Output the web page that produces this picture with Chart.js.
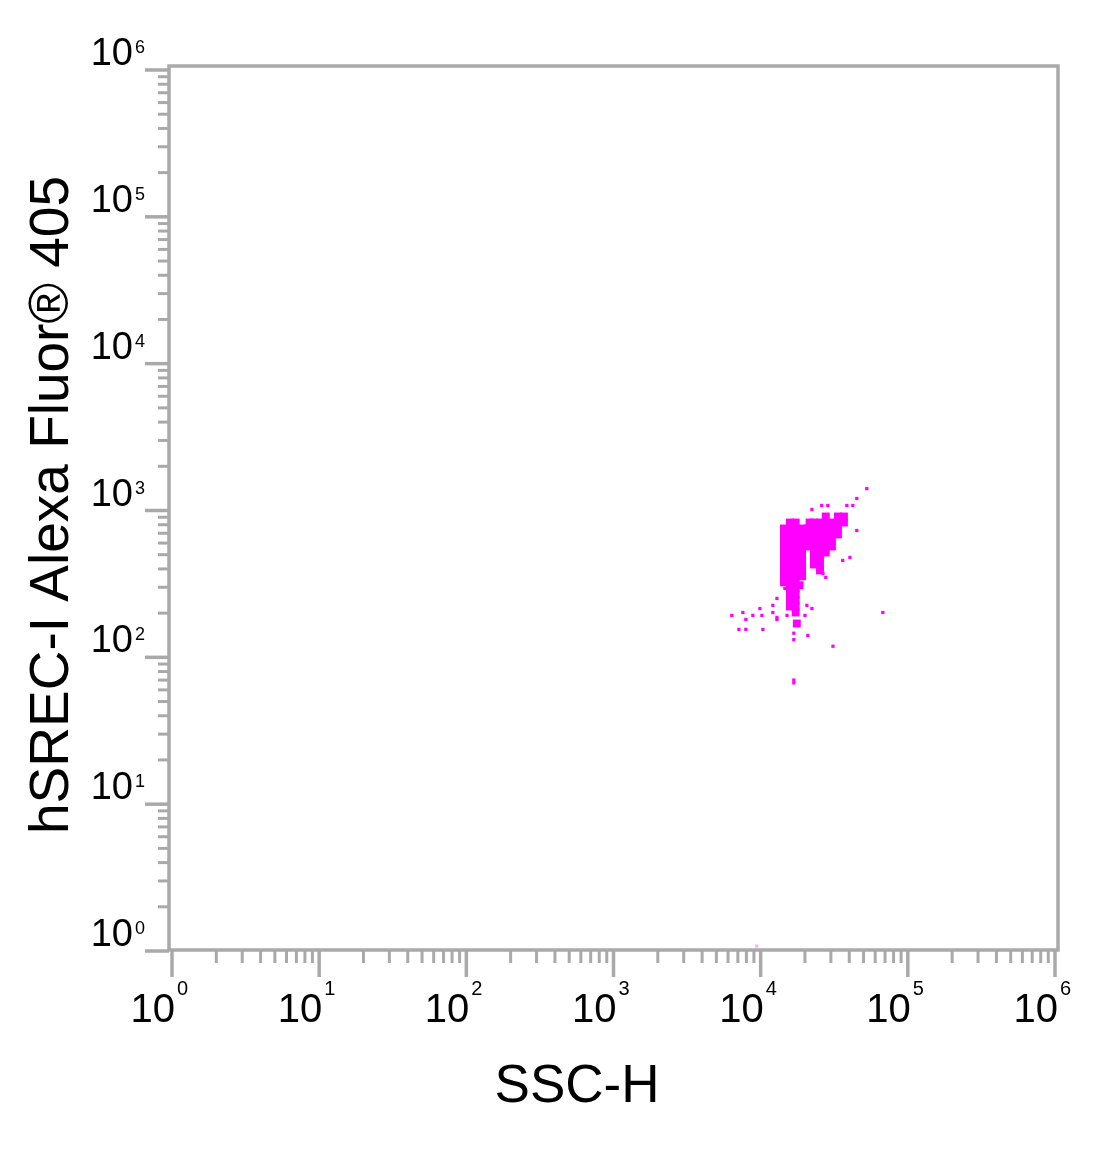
<!DOCTYPE html>
<html>
<head>
<meta charset="utf-8">
<title>hSREC-I Alexa Fluor 405 vs SSC-H</title>
<script src="https://cdn.jsdelivr.net/npm/chart.js@4.4.1/dist/chart.umd.min.js"></script>
<style>
  html, body { margin: 0; padding: 0; background: #fff; }
  #wrap { width: 1100px; height: 1166px; }
</style>
</head>
<body>
<div id="wrap"><canvas id="dotPlot" width="1100" height="1166"></canvas></div>
<script>
// Axis decades and minor multipliers
const decades = [1, 10, 100, 1000, 10000, 100000, 1000000];
const decadeExponents = ['0', '1', '2', '3', '4', '5', '6'];
const minorSteps = [2, 3, 4, 5, 6, 7, 8, 9];

const xAxisTitle = 'SSC-H';
const yAxisTitle = 'hSREC-I Alexa Fluor\u00AE 405';

// Dense part of the population [SSC-H, Alexa Fluor 405]
const denseEvents = [
    [27700, 910], [33500, 910], [36800, 910],
    [15800, 828], [17300, 828], [21500, 828], [23000, 828], [25300, 828], [27700, 828], [30500, 828], [33500, 828], [36800, 828],
    [14400, 754], [15800, 754], [17300, 754], [19100, 754], [20900, 754], [23000, 754], [25300, 754], [27700, 754], [30500, 754], [33500, 754],
    [14400, 687], [15800, 687], [17300, 687], [19100, 687], [20900, 687], [23000, 687], [25300, 687], [27700, 687], [30500, 687], [33500, 687],
    [14400, 625], [15800, 625], [17300, 625], [19100, 625], [20900, 625], [23000, 625], [25300, 625], [27700, 625], [30500, 625],
    [14400, 569], [15800, 569], [17300, 569], [19100, 569], [20900, 569], [23000, 569], [25300, 569], [27700, 569], [30500, 569],
    [14400, 518], [15800, 518], [17300, 518], [19100, 518], [23000, 518], [25300, 518], [27700, 518],
    [14400, 472], [15800, 472], [17300, 472], [19100, 472], [23000, 472], [25300, 472],
    [14400, 429], [15800, 429], [17300, 429], [19100, 429], [23000, 429], [25300, 429],
    [14400, 391], [15800, 391], [17300, 391], [19100, 391], [25300, 391],
    [14400, 356], [15800, 356], [17300, 356], [19100, 356],
    [14400, 324], [15800, 324], [17300, 324], [18400, 310],
    [15800, 295], [17300, 295],
    [15800, 268], [17300, 268],
    [15800, 244], [17300, 244],
    [15800, 222], [17300, 222],
    [17300, 202],
    [17600, 170]
];

// Scattered single events
const sparseEvents = [
    [52600, 1410], [45000, 1208], [42300, 1082], [38500, 1082], [26000, 1082], [28600, 1082],
    [22300, 1016], [45000, 731], [40400, 479], [36100, 457], [27700, 350], [26500, 373],
    [14600, 295], [12900, 252], [12100, 226], [12100, 202], [9880, 215], [10200, 193],
    [7570, 202], [6370, 193], [7930, 181], [8850, 193], [12900, 187], [12900, 181],
    [15100, 193], [20000, 193], [20600, 226], [22300, 215],
    [7110, 155], [7930, 155], [10350, 155],
    [16800, 146], [16800, 132], [20900, 141], [31000, 119], [67600, 202],
    [16800, 70], [16800, 67]
];

// Faint event sitting on the lower axis
const faintEvents = [[9400, 1.08]];

const toPoints = list => list.map(p => ({ x: p[0], y: p[1] }));

const axisFont = '"Liberation Sans", Arial, sans-serif';

const logAxesPlugin = {
    id: 'logAxes',
    afterDraw(chart) {
        const ctx = chart.ctx;
        const xs = chart.scales.x;
        const ys = chart.scales.y;
        const area = chart.chartArea;
        const grey = '#a9a9a9';

        const left = area.left - 3;
        const right = area.right + 3;
        const top = area.top - 4;
        const bottom = area.bottom - 1;

        ctx.save();
        ctx.strokeStyle = grey;
        ctx.lineCap = 'butt';

        // frame
        ctx.lineWidth = 3.5;
        ctx.strokeRect(left, top, right - left, bottom - top);

        // y ticks
        decades.forEach((d, i) => {
            const y = ys.getPixelForValue(d);
            ctx.lineWidth = 3.5;
            ctx.beginPath();
            ctx.moveTo(left - 24, y);
            ctx.lineTo(left, y);
            ctx.stroke();
            if (i < decades.length - 1) {
                minorSteps.forEach(m => {
                    const ym = ys.getPixelForValue(d * m);
                    ctx.lineWidth = 3;
                    ctx.beginPath();
                    ctx.moveTo(left - 11, ym);
                    ctx.lineTo(left, ym);
                    ctx.stroke();
                });
            }
        });

        // x ticks
        decades.forEach((d, i) => {
            const x = xs.getPixelForValue(d);
            ctx.lineWidth = 3.5;
            ctx.beginPath();
            ctx.moveTo(x, bottom);
            ctx.lineTo(x, bottom + 27);
            ctx.stroke();
            if (i < decades.length - 1) {
                minorSteps.forEach(m => {
                    const xm = xs.getPixelForValue(d * m);
                    ctx.lineWidth = 3;
                    ctx.beginPath();
                    ctx.moveTo(xm, bottom);
                    ctx.lineTo(xm, bottom + 13);
                    ctx.stroke();
                });
            }
        });

        // tick labels
        ctx.fillStyle = '#000';
        ctx.textBaseline = 'alphabetic';
        decades.forEach((d, i) => {
            const y = ys.getPixelForValue(d);
            ctx.font = '38px ' + axisFont;
            ctx.textAlign = 'right';
            ctx.fillText('10', left - 36, y - 5);
            ctx.font = '18px ' + axisFont;
            ctx.textAlign = 'left';
            ctx.fillText(decadeExponents[i], left - 34, y - 17);

            const x = xs.getPixelForValue(d);
            ctx.font = '40px ' + axisFont;
            ctx.textAlign = 'right';
            ctx.fillText('10', x + 3, bottom + 72);
            ctx.font = '20px ' + axisFont;
            ctx.textAlign = 'left';
            ctx.fillText(decadeExponents[i], x + 5, bottom + 45);
        });

        // axis titles
        ctx.font = '53px ' + axisFont;
        ctx.textAlign = 'center';
        ctx.fillText(xAxisTitle, 577, 1102);

        ctx.translate(68, 505);
        ctx.rotate(-Math.PI / 2);
        ctx.font = '55px ' + axisFont;
        ctx.fillText(yAxisTitle, 0, 0);
        ctx.restore();
    }
};

new Chart(document.getElementById('dotPlot').getContext('2d'), {
    type: 'scatter',
    data: {
        datasets: [
            {
                data: toPoints(denseEvents),
                pointStyle: 'rect',
                pointRadius: 5.6,
                pointBorderWidth: 0,
                backgroundColor: '#ff00ff'
            },
            {
                data: toPoints(sparseEvents),
                pointStyle: 'rect',
                pointRadius: 2.3,
                pointBorderWidth: 0,
                backgroundColor: '#ff00ff'
            },
            {
                data: toPoints(faintEvents),
                pointStyle: 'rect',
                pointRadius: 2.3,
                pointBorderWidth: 0,
                backgroundColor: 'rgba(255, 0, 255, 0.3)'
            }
        ]
    },
    options: {
        responsive: false,
        animation: false,
        layout: {
            padding: { left: 172, right: 45, top: 70, bottom: 215 }
        },
        plugins: {
            legend: { display: false },
            tooltip: { enabled: false }
        },
        scales: {
            x: { type: 'logarithmic', min: 1, max: 1000000, display: false },
            y: { type: 'logarithmic', min: 1, max: 1000000, display: false }
        }
    },
    plugins: [logAxesPlugin]
});
</script>
</body>
</html>
